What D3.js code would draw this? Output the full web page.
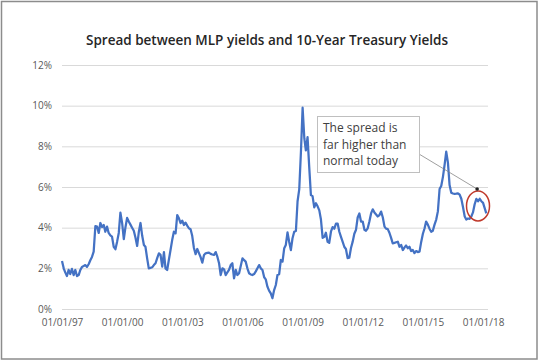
<!DOCTYPE html>
<html>
<head>
<meta charset="utf-8">
<script src="https://cdn.jsdelivr.net/npm/d3@7"></script>
<style>
  body { margin: 0; background: #fff; }
  svg { display: block; font-family: "Open Sans", sans-serif; }
</style>
</head>
<body>
<div id="chart"></div>
<script>
// Monthly spread (MLP yield minus 10-year Treasury), in percent, Jan 1997 - Mar 2018
const firstMonth = new Date(1997, 0, 1);
const endMonth = new Date(2018, 3, 1);
const spread = [
  2.36, 2.0, 1.8, 1.62, 1.92, 1.72, 1.97, 1.67, 1.92, 1.62, 1.67, 1.92,   // 1997
  2.07, 2.12, 2.16, 2.07, 2.2, 2.4, 2.56, 2.82, 4.08, 4.05, 3.74, 4.23,   // 1998
  4.03, 4.13, 3.8, 4.05, 3.74, 3.62, 3.56, 3.06, 2.94, 3.3, 3.74, 4.74,   // 1999
  4.23, 3.44, 4.0, 4.48, 4.3, 4.15, 4.0, 3.85, 3.5, 3.1, 3.8, 4.23,       // 2000
  3.6, 3.15, 3.06, 2.49, 2.0, 2.02, 2.05, 2.16, 2.25, 2.5, 2.74, 2.66,    // 2001
  2.08, 2.8, 2.0, 1.92, 2.41, 2.9, 3.39, 3.8, 3.72, 4.62, 4.46, 4.22,     // 2002
  4.34, 4.13, 4.25, 4.1, 3.97, 3.92, 3.6, 3.0, 2.7, 2.95, 2.75, 2.55,     // 2003
  2.28, 2.66, 2.74, 2.76, 2.77, 2.71, 2.68, 2.66, 2.8, 2.57, 2.25, 1.67,  // 2004
  2.0, 1.95, 1.67, 1.8, 1.92, 2.16, 2.25, 1.51, 1.92, 1.67, 1.76, 2.11,   // 2005
  2.49, 2.4, 2.33, 2.0, 1.76, 1.7, 1.67, 1.72, 1.85, 2.0, 2.16, 2.0,      // 2006
  1.92, 1.56, 1.46, 1.1, 0.9, 0.77, 0.53, 0.93, 1.18, 1.67, 1.71, 2.41,   // 2007
  2.33, 2.99, 3.15, 3.77, 3.31, 2.9, 3.48, 3.8, 3.84, 5.3, 5.9, 7.7,      // 2008
  9.9, 8.4, 7.8, 8.45, 7.0, 5.6, 5.55, 5.0, 5.2, 5.05, 4.85, 4.4,         // 2009
  3.5, 3.55, 3.75, 3.3, 3.25, 3.8, 4.03, 3.95, 4.2, 4.2, 3.8, 3.55,       // 2010
  3.3, 3.05, 2.95, 2.5, 2.52, 3.0, 3.3, 3.7, 3.9, 4.5, 4.7, 4.3,          // 2011
  4.3, 3.9, 3.85, 3.97, 4.3, 4.7, 4.9, 4.75, 4.65, 4.55, 4.62, 4.79,      // 2012
  4.5, 4.05, 3.95, 3.93, 3.75, 3.5, 3.23, 3.25, 3.28, 3.31, 3.06, 3.15,   // 2013
  2.9, 3.03, 3.12, 2.99, 3.06, 2.85, 2.9, 2.75, 2.85, 2.8, 2.82, 3.3,     // 2014
  3.7, 3.97, 4.3, 4.15, 3.95, 3.8, 3.85, 4.15, 4.4, 4.8, 5.9, 6.05,       // 2015
  6.5, 7.1, 7.74, 7.2, 6.1, 5.72, 5.68, 5.66, 5.67, 5.69, 5.62, 5.42,     // 2016
  5.0, 4.55, 4.4, 4.45, 4.43, 4.55, 4.75, 5.15, 5.42, 5.3, 5.42, 5.3,     // 2017
  5.22, 4.95, 4.7                                                         // 2018
];
const months = d3.timeMonth.range(firstMonth, endMonth);
const series = months.map((d, i) => ({ date: d, value: spread[i] }));

// Axis ticks
const xTickYears = [1997, 2000, 2003, 2006, 2009, 2012, 2015, 2018];
const yTicks = [0, 2, 4, 6, 8, 10, 12];

// Annotation
const noteLines = ["The spread is", "far higher than", "normal today"];
const noteTarget = { date: new Date(2017, 8, 15), value: 5.9 };
const circleCenter = { date: new Date(2017, 9, 1), value: 5.07 };

const width = 540, height = 362;
const plot = { left: 62, right: 488, top: 65, bottom: 309 };

const svg = d3.select('#chart').append('svg')
    .attr('width', width)
    .attr('height', height);

// Chart frame
svg.append('rect')
    .attr('x', 1.5).attr('y', 1.5)
    .attr('width', width - 4.5).attr('height', height - 4.5)
    .attr('fill', '#fff')
    .attr('stroke', '#8c8c8c')
    .attr('stroke-width', 1.5);

// Title
svg.append('text')
    .attr('x', 267).attr('y', 45)
    .attr('text-anchor', 'middle')
    .style('font-size', '13.5px')
    .style('font-weight', 600)
    .attr('fill', '#262626')
    .text('Spread between MLP yields and 10-Year Treasury Yields');

const x = d3.scaleTime()
    .domain([firstMonth, endMonth])
    .range([plot.left, plot.right]);

const y = d3.scaleLinear()
    .domain([0, 12])
    .range([plot.bottom, plot.top]);

// Y axis with gridlines
const yAxis = svg.append('g')
    .attr('transform', `translate(${plot.left},0)`)
    .call(d3.axisLeft(y)
        .tickValues(yTicks)
        .tickSize(-(plot.right - plot.left))
        .tickPadding(10)
        .tickFormat(d => d + '%'));
yAxis.select('.domain').remove();
yAxis.selectAll('line').attr('stroke', '#d9d9d9').attr('stroke-width', 1);
yAxis.selectAll('text')
    .attr('fill', '#595959')
    .style('font-size', '10px')
    .style('font-family', '"Open Sans", sans-serif');

// X axis labels only
const xAxis = svg.append('g')
    .attr('transform', `translate(0,${plot.bottom})`)
    .call(d3.axisBottom(x)
        .tickValues(xTickYears.map(yr => new Date(yr, 0, 1)))
        .tickSize(0)
        .tickPadding(10)
        .tickFormat(d3.timeFormat('%m/%d/%y')));
xAxis.select('.domain').remove();
xAxis.selectAll('text')
    .attr('fill', '#595959')
    .style('font-size', '10px')
    .style('font-family', '"Open Sans", sans-serif');

// Spread line
const line = d3.line()
    .x(d => x(d.date))
    .y(d => y(d.value));

svg.append('path')
    .datum(series)
    .attr('fill', 'none')
    .attr('stroke', '#4472c4')
    .attr('stroke-width', 2.25)
    .attr('stroke-linejoin', 'round')
    .attr('d', line);

// Red circle around the latest values
svg.append('ellipse')
    .attr('cx', x(circleCenter.date))
    .attr('cy', y(circleCenter.value))
    .attr('rx', 11.5)
    .attr('ry', 15)
    .attr('fill', 'none')
    .attr('stroke', '#c0392b')
    .attr('stroke-width', 1.5);

// Callout box
const box = { x: 317, y: 116, w: 102, h: 56 };
svg.append('line')
    .attr('x1', box.x + box.w).attr('y1', 154)
    .attr('x2', x(noteTarget.date)).attr('y2', y(noteTarget.value))
    .attr('stroke', '#7f7f7f')
    .attr('stroke-width', 0.75);
svg.append('circle')
    .attr('cx', x(noteTarget.date)).attr('cy', y(noteTarget.value))
    .attr('r', 1.8)
    .attr('fill', '#222');

svg.append('rect')
    .attr('x', box.x + 0.5).attr('y', box.y + 0.5)
    .attr('width', box.w).attr('height', box.h)
    .attr('fill', '#fff')
    .attr('stroke', '#bfbfbf')
    .attr('stroke-width', 1);

svg.append('g').selectAll('text')
    .data(noteLines)
    .enter().append('text')
    .attr('x', box.x + 6)
    .attr('y', (d, i) => box.y + 16 + i * 16.5)
    .attr('fill', '#404040')
    .style('font-size', '12px')
    .text(d => d);
</script>
</body>
</html>
